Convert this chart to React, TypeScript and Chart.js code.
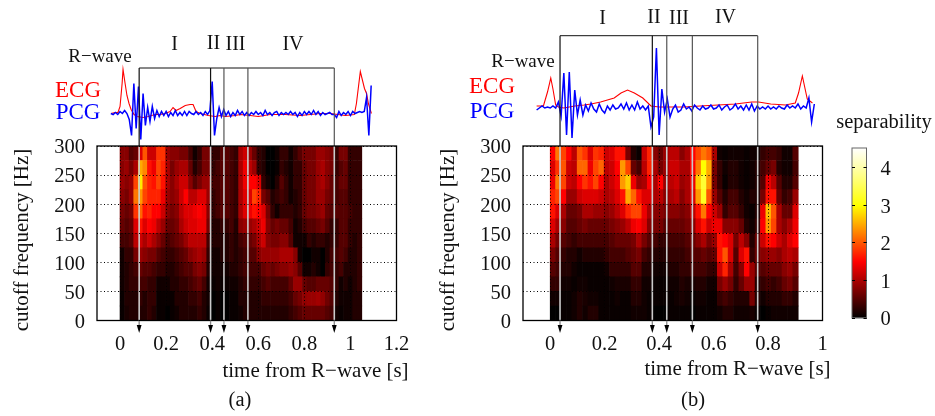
import React, { useEffect, useRef } from "react";
import Chart from "chart.js/auto";

const SERIF = "'Liberation Serif', serif";

// ---------- data: separability, rows from 275-300 Hz (top) to 0-25 Hz (bottom) ----------
const heatA: number[][] = [
[.8,.8,.5,.6,1.3,2.0,1.2,1.2,1.8,1.8,.9,.8,.8,.7,.7,.4,.1,.3,.7,.7,.3,.3,.5,.5,.4,.3,1.0,1.2,.9,.6,.3,.2,0,0,.1,.3,.3,.1,.3,.5,.7,.7,.7,.9,.9,.8,.7,.3,.7,.7,.3,.3,.3],
[.8,.9,.7,1.0,2.5,2.3,1.6,1.4,1.9,1.7,1.0,.7,.9,1.0,1.0,.6,.2,.4,.7,.7,.3,.4,.5,.5,.4,.3,1.0,1.4,1.1,.9,.3,.2,0,0,.05,.3,.2,.1,.3,.3,.6,.7,.7,.9,1.0,.8,.7,.3,.5,.6,.3,.3,.3],
[.9,.8,.9,1.9,2.9,2.0,1.7,1.6,1.9,1.6,1.0,.8,1.0,1.2,1.2,.8,.5,.7,.9,.9,.4,.4,.5,.5,.4,.3,1.0,1.4,1.5,1.5,1.3,.3,.1,0,.2,.5,.3,.1,.3,.3,.6,.7,.7,.9,1.0,.8,.6,.4,.6,.6,.3,.3,.3],
[.8,.7,.9,2.2,2.4,1.9,1.7,1.7,1.7,1.4,.9,.8,.9,1.2,1.5,1.1,1.1,1.3,1.3,.9,.3,.4,.5,.5,.4,.3,1.0,1.3,1.3,1.9,1.7,.7,.5,.2,.3,.4,.3,.1,.2,.3,.6,.7,.7,.9,.9,.7,.6,.4,.5,.5,.3,.3,.3],
[.7,.6,.7,1.8,2.1,1.6,1.7,1.5,1.5,1.2,.8,.7,.8,1.1,1.3,1.3,1.4,1.5,1.4,.8,.3,.4,.5,.5,.4,.3,1.0,1.3,1.4,1.6,1.5,1.3,.7,.3,.1,.3,.3,.3,.2,.3,.6,.7,.7,.8,.9,.6,.5,.5,.5,.5,.4,.3,.3],
[.6,.5,.6,1.3,1.6,1.3,1.5,1.4,1.1,.9,.6,.6,.7,1.0,1.2,1.3,1.3,1.4,1.4,.7,.2,.2,.3,.3,.4,.2,.8,.9,.9,1.0,1.2,1.4,.8,.6,.7,.6,.6,.4,.1,.2,.4,.5,.5,.6,.7,.5,.3,.3,.5,.5,.3,.3,.3],
[.4,.4,.5,1.1,1.2,1.0,1.2,1.0,.8,.6,.4,.5,.6,.7,.9,1.1,1.1,1.1,1.1,.4,.2,.2,.2,.2,.3,.2,.4,.5,.6,.7,1.0,1.2,.8,.7,.7,.8,.8,.5,.1,.1,.1,.3,.2,.3,.3,.2,.3,.3,.5,.5,.3,.2,.3],
[.1,.3,.3,.7,.9,.8,.7,.7,.5,.4,.3,.3,.4,.5,.6,.8,.9,1.0,.9,.3,.1,.1,.2,.2,.3,.2,.3,.4,.5,.5,.8,.9,.9,.9,.9,1.0,1.0,1.0,.8,.1,0,0,.1,.1,0,.2,.4,.4,.5,.4,.2,.2,.3],
[.1,.2,.3,.4,.6,.5,.5,.4,.3,.3,.2,.2,.3,.4,.5,.5,.7,.8,.7,.2,.1,.1,.1,.1,.2,.2,.3,.4,.4,.4,.4,.6,.7,.6,.7,.8,.8,.9,.8,.5,.1,.1,.2,.1,0,.3,.4,.3,.4,.2,.2,.2,.3],
[.1,.2,.3,.3,.4,.4,.3,.3,.1,.1,.1,.2,.2,.3,.3,.4,.5,.6,.4,.1,.05,.1,.05,.05,.1,.1,.2,.3,.3,.3,.3,.4,.5,.4,.4,.4,.4,.6,.9,.9,.6,.5,.5,.6,.6,.6,.5,.3,.1,.2,.1,.2,.3],
[.05,.2,.2,.2,.3,.2,.3,.3,.05,.05,.05,.05,.2,.2,.2,.3,.3,.4,.2,.1,0,.05,0,0,.05,.05,.2,.2,.2,.2,.2,.3,.3,.3,.3,.3,.3,.4,.6,.7,.85,.9,.9,.95,.85,.65,.5,.2,.1,.1,.1,.2,.2],
[.05,.15,.2,.2,.2,.2,.3,.2,.05,.05,0,.05,.1,.2,.2,.2,.2,.3,.2,.05,0,.05,0,0,.05,.05,.1,.2,.2,.2,.2,.2,.2,.2,.2,.2,.2,.3,.4,.5,.6,.6,.6,.6,.6,.5,.4,.1,.05,.1,.1,.2,.2],
];
const heatB: number[][] = [
[1.5,2.2,1.9,1.5,1.1,2.0,1.8,1.3,1.8,1.7,1.2,1.3,1.6,1.6,.7,.2,.05,1.2,1.7,.8,.6,.9,1.1,1.1,.8,1.0,1.5,1.9,2.2,2.0,1.0,.1,.05,.1,.1,.1,.05,.1,.1,.3,.4,.4,.3,.1,.1,.5],
[1.3,1.8,2.0,1.2,1.1,2.1,2.1,1.4,1.9,2.1,1.1,1.2,1.5,2.4,1.9,.6,.4,1.1,1.7,1.0,.7,.9,1.2,1.2,1.0,1.0,1.5,2.2,3.0,2.5,.7,.3,.1,.2,.2,.1,.05,.1,.2,.4,.6,.7,.2,.1,.1,.4],
[1.4,2.2,1.9,1.2,1.1,1.5,1.8,1.6,1.9,1.5,1.0,1.2,1.4,2.4,2.7,1.4,.9,1.0,1.5,1.0,1.5,.9,1.1,1.2,.9,1.0,1.4,2.7,3.3,2.4,.7,.3,.05,.2,.2,.1,.05,.1,.2,.5,1.4,1.1,.5,.2,.2,.5],
[1.7,1.9,1.5,.9,.9,1.2,1.3,1.3,1.3,1.2,1.0,1.1,1.3,1.6,2.5,2.1,1.6,1.3,1.3,1.0,1.1,.8,1.0,1.1,.8,1.0,1.3,2.4,3.2,2.0,.9,.5,.2,.4,.4,.2,.1,.2,.2,.7,1.6,1.6,.6,.3,.4,.9],
[1.6,1.3,1.0,.6,.6,.7,1.0,1.0,.9,.9,.8,.9,1.1,1.3,1.7,1.9,1.9,1.4,1.0,.8,.8,.7,.8,.8,.7,.8,1.1,1.6,2.2,1.5,1.2,.9,.3,.5,.5,.3,.1,.05,.2,1.4,2.6,2.0,1.0,.6,.6,1.3],
[1.3,1.0,.8,.5,.5,.6,.7,.6,.6,.6,.6,.7,.8,.9,1.1,1.4,1.5,1.3,.8,.7,.7,.5,.6,.6,.6,.7,.8,1.3,1.6,1.2,1.4,1.4,.8,.8,.8,.6,.2,.1,.3,1.5,2.4,1.9,1.0,.8,1.0,1.4],
[1.0,.7,.5,.4,.3,.4,.4,.4,.4,.4,.4,.5,.6,.6,.6,.7,1.0,.7,.5,.4,.3,.3,.4,.4,.4,.5,.6,.8,1.0,.7,.9,1.6,1.5,1.3,.7,1.1,.8,.2,.6,1.2,1.6,1.5,1.2,1.0,1.3,1.5],
[.7,.5,.3,.2,.2,.1,.2,.2,.2,.2,.3,.4,.4,.4,.5,.6,.7,.4,.3,.2,.2,.2,.3,.3,.3,.4,.5,.5,.6,.5,.6,1.6,2.0,1.3,.5,1.3,1.6,.3,.6,.8,.9,.9,.8,1.0,1.1,1.0],
[.5,.4,.2,.2,.1,.05,.05,.05,.05,.05,.1,.3,.3,.3,.3,.5,.5,.2,.2,.1,.1,.1,.2,.2,.3,.3,.4,.4,.4,.3,.3,1.2,1.7,1.0,.4,.8,1.5,.9,.5,.5,.6,.6,.6,.8,.9,.7],
[.3,.3,.1,.1,.05,.1,.1,.05,.05,.05,.05,.1,.15,.15,.15,.3,.3,.1,.1,.05,.05,.05,.1,.1,.2,.15,.15,.2,.2,.1,.1,.7,.9,.7,.3,.6,.9,.9,.2,.3,.4,.3,.4,.6,.7,.5],
[.1,.1,.05,.05,.1,.2,.15,.1,.1,.05,.05,.05,.1,.05,.05,.2,.2,.1,.05,.05,.05,.05,.05,.1,.15,.1,.05,.1,.1,.05,.05,.3,.4,.3,.2,.2,.2,.7,.2,.1,.2,.2,.2,.3,.3,.2],
[0,0,.05,.05,.1,.2,.1,.2,.2,.05,.05,.05,.05,.05,.05,.1,.1,.1,.05,0,0,0,.05,.05,.05,.05,0,.05,.05,.05,.05,.1,.2,.2,.1,.1,.1,.15,.05,0,.05,.1,.1,.1,.1,.1],
];

// ECG as [time s, amplitude]
const ecgA: [number, number][] = [
[-.039,0],[-.022,1],[-.009,1],[0,7],[.009,30],[.013,44],[.022,30],[.03,18],[.039,10],[.048,4],[.061,-1],[.074,-3],[.1,-4],[.122,-3],[.152,-1],[.174,-1],[.196,0],[.217,2],[.23,6],[.243,3],[.261,5],[.283,8],[.304,9],[.317,9],[.33,2],[.348,0],[.383,-2],[.413,-3],[.435,-2],[.457,-3],[.5,-2],[.522,-1],[.565,-2],[.6,-3],[.652,-1],[.717,-1],[.783,-2],[.87,0],[.913,0],[.978,-2],[1.017,-1],[1.026,10],[1.043,42],[1.061,25],[1.07,20],[1.078,10],[1.091,0],
];
const ecgB: [number, number][] = [
[-.05,1],[-.025,1],[-.01,15],[.002,29],[.01,18],[.02,2],[.03,0],[.05,-1],[.07,0],[.09,1],[.124,2],[.15,3],[.185,5],[.21,7],[.235,9],[.26,14],[.284,17],[.309,14],[.34,9],[.37,1],[.4,0],[.44,0],[.49,0],[.55,1],[.617,2],[.68,3],[.74,5],[.765,5],[.81,3],[.864,2],[.9,4],[.912,14],[.926,31],[.944,8],[.963,4],
];
// PCG, one value every 10 ms from pcgStartA / pcgStartB
const pcgStartA = -0.04;
const pcgA = [0,-1,1,-1,2,0,3,0,-6,-22,30,-15,27,-26,20,-12,6,-8,7,-5,3,-3,2,-2,2,-3,1,-2,3,-2,1,-2,2,-2,2,0,-1,2,-1,1,-2,2,-1,3,32,-22,-5,6,-3,4,-2,2,-3,1,-2,3,-1,2,-2,1,-2,1,-1,2,-1,1,-2,3,-1,1,-2,1,2,-2,1,-1,1,-1,2,-1,1,-3,1,-2,2,-1,2,-1,3,-1,2,-2,1,-1,0,1,-1,-1,-4,2,-2,1,-1,2,-2,2,0,1,2,1,2,16,-22,28];
const pcgStartB = -0.05;
const pcgB = [-3,-1,1,-1,0,-1,1,-1,5,-9,34,-28,35,-31,17,-8,7,-8,2,-4,4,-2,-5,3,-3,-6,1,-3,2,-2,-1,3,-2,4,-3,2,-3,5,-2,1,-3,1,-20,-10,59,-28,18,-5,8,-10,-2,2,-5,-3,3,-2,0,-4,2,-1,-3,1,-2,-1,2,-2,-1,2,-3,0,2,-3,-1,3,-2,1,-3,2,-3,3,-4,1,-2,0,-2,1,-2,0,-2,1,-1,-2,2,-1,1,-1,3,-2,1,-1,9,-15,3];

// Phase boundaries [s] and axis ticks
const phasesA = [0.083, 0.393, 0.451, 0.555, 0.93];
const phasesB = [0.036, 0.375, 0.428, 0.522, 0.762];
const xTicksA = [0, 0.2, 0.4, 0.6, 0.8, 1, 1.2];
const xTicksB = [0, 0.2, 0.4, 0.6, 0.8, 1];
const yTicks = [0, 50, 100, 150, 200, 250, 300];
const barTicks = [0, 1, 2, 3, 4];
const RWAVE = "R\u2212wave";
const XTITLE = "time from R\u2212wave [s]";
const YTITLE = "cutoff frequency [Hz]";

// ---------- colour ----------
const clamp = (v: number) => Math.max(0, Math.min(1, v));
const hot = (v: number) =>
  `rgb(${Math.round(255 * clamp(v / 1.5))},${Math.round(255 * clamp((v - 1.5) / 1.5))},${Math.round(255 * clamp((v - 3) / 1.5))})`;

type Label = { text: string; x: number; y: number; color?: string; size?: number; rotate?: boolean };

const textPlugin = (id: string, labels: Label[], offset: number) => ({
  id,
  afterDraw(chart: any) {
    const c = chart.ctx;
    c.save();
    c.textAlign = "center";
    c.textBaseline = "middle";
    for (const l of labels) {
      c.save();
      c.translate(l.x - offset, l.y);
      if (l.rotate) c.rotate(-Math.PI / 2);
      c.fillStyle = l.color || "#111";
      c.font = `${l.size || 20.5}px ${SERIF}`;
      c.fillText(l.text, 0, 0);
      c.restore();
    }
    c.restore();
  },
});

const framePlugin = (color: string, width: number) => ({
  id: "frame",
  afterDatasetsDraw(chart: any) {
    const { left, top, right, bottom } = chart.chartArea;
    const c = chart.ctx;
    c.save();
    c.strokeStyle = color;
    c.lineWidth = width;
    c.strokeRect(left, top, right - left, bottom - top);
    c.restore();
  },
});

// Arrow stems below the plot and their heads: points outside the chart area are not drawn by Chart.js.
const arrowPlugin = (phases: number[]) => ({
  id: "arrowHeads",
  afterDatasetsDraw(chart: any) {
    const xs = chart.scales.x;
    const { bottom } = chart.chartArea;
    const c = chart.ctx;
    c.save();
    for (const t of phases) {
      const px = xs.getPixelForValue(t);
      c.strokeStyle = "#888";
      c.lineWidth = 1.3;
      c.beginPath();
      c.moveTo(px, bottom);
      c.lineTo(px, bottom + 6);
      c.stroke();
      c.fillStyle = "#000";
      c.beginPath();
      c.moveTo(px - 2.4, bottom + 4.5);
      c.lineTo(px + 2.4, bottom + 4.5);
      c.lineTo(px, bottom + 12.5);
      c.closePath();
      c.fill();
    }
    c.restore();
  },
});

const CANVAS_W = 426;
const CANVAS_H = 416;
const PLOT_LEFT = 97;
const PLOT_RIGHT = 396.5;
const PLOT_TOP = 146;
const PLOT_BOTTOM = 320.5;
const COL_STEP = 0.0198;

function panelConfig(p: {
  heat: number[][];
  ecg: [number, number][];
  pcg: number[];
  pcgStart: number;
  phases: number[];
  xMax: number;
  xTicks: number[];
  baseline: number;
  bracketY: number;
  labels: Label[];
  offset: number;
  id: string;
}) {
  const toAmp = (py: number) => p.baseline - py;
  const bars = p.heat.map((row, r) => ({
    type: "bar" as const,
    label: `${300 - 25 * (r + 1)}-${300 - 25 * r} Hz`,
    data: row.map((_, c) => ({ x: COL_STEP * (c + 0.5), y: 25 })),
    backgroundColor: row.map(hot),
    borderWidth: 0,
    barPercentage: 1,
    categoryPercentage: 1,
    xAxisID: "x",
    yAxisID: "y",
    stack: "heat",
    order: 10,
  }));
  // bottom row first so the stack grows upward in the right order
  bars.reverse();
  const arrows = p.phases.map((t, i) => ({
    type: "line" as const,
    label: `boundary ${i}`,
    data: [toAmp(p.bracketY), toAmp(PLOT_TOP), toAmp(PLOT_BOTTOM)].map((y) => ({ x: t, y })),
    xAxisID: "x",
    yAxisID: "yw",
    clip: false,
    order: 1,
    borderWidth: 1.3,
    segment: {
      borderColor: (ctx: any) => (ctx.p0DataIndex === 0 ? (i < 2 ? "#111" : "#555") : "#cacaca"),
      borderWidth: (ctx: any) => (ctx.p0DataIndex === 1 ? 1.6 : 1.2),
    },
    borderColor: "#111",
    pointRadius: 0,
  }));
  const bracket = {
    type: "line" as const,
    label: "phases",
    data: [
      { x: p.phases[0], y: toAmp(p.bracketY) },
      { x: p.phases[4], y: toAmp(p.bracketY) },
    ],
    xAxisID: "x",
    yAxisID: "yw",
    clip: false,
    order: 1,
    borderColor: "#111",
    borderWidth: 1,
    pointRadius: 0,
  };
  const ecg = {
    type: "line" as const,
    label: "ECG",
    data: p.ecg.map(([x, y]) => ({ x, y })),
    xAxisID: "x",
    yAxisID: "yw",
    clip: false,
    order: 3,
    borderColor: "#ff0000",
    borderWidth: 1.1,
    pointRadius: 0,
    tension: 0,
  };
  const pcg = {
    type: "line" as const,
    label: "PCG",
    data: p.pcg.map((y, i) => ({ x: p.pcgStart + i * 0.01, y })),
    xAxisID: "x",
    yAxisID: "yw",
    clip: false,
    order: 2,
    borderColor: "#0000ff",
    borderWidth: 1.5,
    pointRadius: 0,
    tension: 0,
  };
  return {
    type: "bar" as const,
    data: { datasets: [...arrows, bracket, pcg, ecg, ...bars] as any[] },
    options: {
      responsive: false,
      animation: false as const,
      devicePixelRatio: 1,
      layout: { padding: { left: 0, top: PLOT_TOP, right: CANVAS_W - PLOT_RIGHT, bottom: 0 } },
      plugins: { legend: { display: false }, tooltip: { enabled: false } },
      scales: {
        x: {
          type: "linear" as const,
          min: -0.1,
          max: p.xMax,
          offset: false,
          stacked: true,
          afterBuildTicks: (s: any) => {
            s.ticks = p.xTicks.map((value) => ({ value }));
          },
          afterFit: (s: any) => {
            s.height = CANVAS_H - PLOT_BOTTOM;
          },
          grid: { offset: false, z: 1, color: "#000", lineWidth: 1, drawTicks: false },
          border: { display: false, dash: [1, 2.5] },
          ticks: {
            color: "#111",
            padding: 12,
            autoSkip: false,
            maxRotation: 0,
            font: { family: SERIF, size: 20.5 },
            callback: (v: any) => String(v),
          },
        },
        y: {
          type: "linear" as const,
          stacked: true,
          min: 0,
          max: 300,
          afterBuildTicks: (s: any) => {
            s.ticks = yTicks.map((value) => ({ value }));
          },
          afterFit: (s: any) => {
            s.width = PLOT_LEFT;
          },
          grid: { z: 1, color: "#000", lineWidth: 1, drawTicks: false },
          border: { display: false, dash: [1, 2.5] },
          ticks: { color: "#111", padding: 12, labelOffset: 2, font: { family: SERIF, size: 20.5 } },
        },
        yw: {
          type: "linear" as const,
          display: false,
          min: toAmp(PLOT_BOTTOM),
          max: toAmp(PLOT_TOP),
        },
      },
    },
    plugins: [framePlugin("#000", 1.3), arrowPlugin(p.phases), textPlugin(p.id, p.labels, p.offset)],
  };
}

const labelsA: Label[] = [
  { text: RWAVE, x: 100, y: 57, size: 19 },
  { text: "ECG", x: 78, y: 91, color: "#ff0000", size: 23 },
  { text: "PCG", x: 78, y: 113, color: "#0000ff", size: 23 },
  { text: "I", x: 174.5, y: 45, size: 20 },
  { text: "II", x: 213.5, y: 44, size: 20 },
  { text: "III", x: 235.5, y: 45, size: 20 },
  { text: "IV", x: 293, y: 45, size: 20 },
  { text: YTITLE, x: 22, y: 240, rotate: true, size: 21 },
  { text: XTITLE, x: 315.5, y: 371, size: 21 },
  { text: "(a)", x: 240, y: 401 },
];
const labelsB: Label[] = [
  { text: RWAVE, x: 523, y: 62, size: 19 },
  { text: "ECG", x: 492, y: 87, color: "#ff0000", size: 23 },
  { text: "PCG", x: 492, y: 112, color: "#0000ff", size: 23 },
  { text: "I", x: 602.5, y: 19, size: 20 },
  { text: "II", x: 654, y: 18, size: 20 },
  { text: "III", x: 679, y: 19, size: 20 },
  { text: "IV", x: 725.5, y: 18, size: 20 },
  { text: YTITLE, x: 448, y: 240, rotate: true, size: 21 },
  { text: XTITLE, x: 737.5, y: 369, size: 21 },
  { text: "(b)", x: 693, y: 401 },
];

const BAR_CANVAS_LEFT = 826;
const BAR_CANVAS_W = 109;

export default function App() {
  const refA = useRef<HTMLCanvasElement>(null);
  const refB = useRef<HTMLCanvasElement>(null);
  const refC = useRef<HTMLCanvasElement>(null);

  useEffect(() => {
    const a = new Chart(
      refA.current!,
      panelConfig({
        heat: heatA,
        ecg: ecgA,
        pcg: pcgA,
        pcgStart: pcgStartA,
        phases: phasesA,
        xMax: 1.2,
        xTicks: xTicksA,
        baseline: 113.5,
        bracketY: 68,
        labels: labelsA,
        offset: 0,
        id: "textA",
      }) as any
    );
    const b = new Chart(
      refB.current!,
      panelConfig({
        heat: heatB,
        ecg: ecgB,
        pcg: pcgB,
        pcgStart: pcgStartB,
        phases: phasesB,
        xMax: 1.0,
        xTicks: xTicksB,
        baseline: 107,
        bracketY: 35.7,
        labels: labelsB,
        offset: 426,
        id: "textB",
      }) as any
    );
    const barMax = 4.53;
    const c = new Chart(refC.current!, {
      type: "bar",
      data: {
        labels: ["separability"],
        datasets: [
          {
            label: "separability",
            data: [[0, barMax]],
            barPercentage: 1,
            categoryPercentage: 1,
            borderWidth: 0,
            backgroundColor: (ctx: any) => {
              const { chart } = ctx;
              const area = chart.chartArea;
              if (!area) return "#000";
              const g = chart.ctx.createLinearGradient(0, area.bottom, 0, area.top);
              for (const v of [0, 0.75, 1.5, 2.25, 3, 3.75, barMax]) g.addColorStop(v / barMax, hot(v));
              return g;
            },
          },
        ],
      } as any,
      options: {
        responsive: false,
        animation: false,
        devicePixelRatio: 1,
        layout: { padding: { left: 26, top: 148, right: 0, bottom: CANVAS_H - 318 } },
        plugins: { legend: { display: false }, tooltip: { enabled: false } },
        scales: {
          x: { display: false },
          y: {
            position: "right",
            min: 0,
            max: barMax,
            afterBuildTicks: (s: any) => {
              s.ticks = barTicks.map((value) => ({ value }));
            },
            afterFit: (s: any) => {
              s.width = BAR_CANVAS_W - 40.5;
            },
            grid: { z: 1, color: "#000", lineWidth: 1, drawTicks: false },
            border: { display: false, dash: [3, 8.5, 3, 0] },
            ticks: { color: "#111", padding: 14, labelOffset: 2, font: { family: SERIF, size: 20.5 } },
          },
        },
      } as any,
      plugins: [
        framePlugin("#666", 1),
        textPlugin("textC", [{ text: "separability", x: 884, y: 122.5 }], BAR_CANVAS_LEFT),
      ],
    } as any);
    return () => {
      a.destroy();
      b.destroy();
      c.destroy();
    };
  }, []);

  const style = (left: number): React.CSSProperties => ({ position: "absolute", left, top: 0, display: "block" });
  return (
    <div style={{ position: "fixed", left: 0, top: 0, width: 935, height: 416, overflow: "hidden", background: "#fff" }}>
      <canvas ref={refA} width={CANVAS_W} height={CANVAS_H} style={style(0)} />
      <canvas ref={refB} width={CANVAS_W} height={CANVAS_H} style={style(426)} />
      <canvas ref={refC} width={BAR_CANVAS_W} height={CANVAS_H} style={style(BAR_CANVAS_LEFT)} />
    </div>
  );
}
